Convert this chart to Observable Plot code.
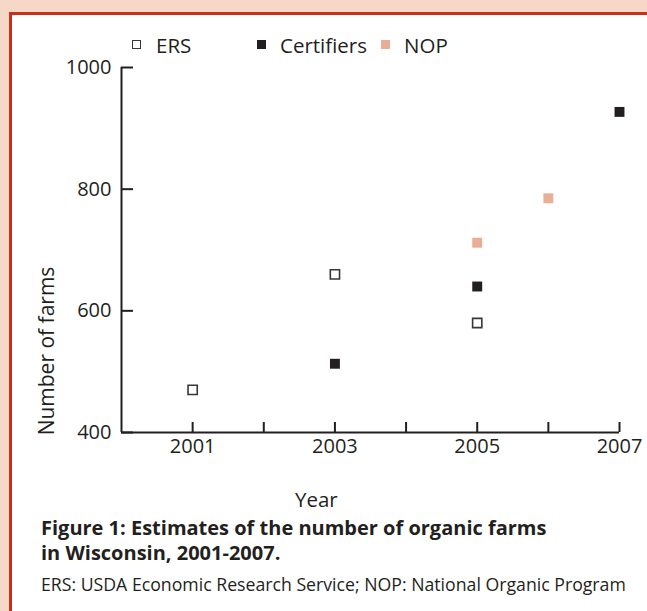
<!DOCTYPE html>
<html>
<head>
<meta charset="utf-8">
<script src="https://cdn.jsdelivr.net/npm/d3@7"></script>
<script src="https://cdn.jsdelivr.net/npm/@observablehq/plot@0.6"></script>
<style>
html, body { margin: 0; padding: 0; }
body { width: 647px; height: 611px; overflow: hidden; background: #f6d8c8; position: relative;
  font-family: "Open Sans", sans-serif; color: #231f20; }
#frame { position: absolute; left: 9px; top: 12px; width: 700px; height: 700px; background: #fff;
  border-left: 3px solid #c9301c; border-top: 3px solid #c9301c; }
#chart { position: absolute; left: 0; top: 0; }
.t { position: absolute; white-space: nowrap; line-height: 1; }
.leg { font-size: 20.5px; top: 35px; }
.sw { position: absolute; width: 9px; height: 9px; box-sizing: border-box; top: 39.5px; }
#ylab { font-size: 21px; left: 46px; top: 351px; transform: translate(-50%, -50%) rotate(-90deg); }
#xlab { font-size: 20.5px; left: 295px; top: 489px; }
.cap { font-size: 20px; font-weight: 700; left: 41px; }
#src { font-size: 17.7px; left: 41px; top: 576px; }
</style>
</head>
<body>
<div id="frame"></div>
<div id="chart"></div>
<div id="legend"></div>
<div class="t" id="ylab"></div>
<div class="t" id="xlab"></div>
<div class="t cap" id="cap1" style="top:518px"></div>
<div class="t cap" id="cap2" style="top:543px"></div>
<div class="t" id="src"></div>
<script>
// ---- data ----
const seriesNames = ["ERS", "Certifiers", "NOP"];
const ersYears = [2001, 2003, 2005];
const ersValues = [470, 660, 580];
const certYears = [2003, 2005, 2007];
const certValues = [513, 640, 927];
const nopYears = [2005, 2006];
const nopValues = [712, 785];
const yTicks = [400, 600, 800, 1000];
const xTickYears = [2001, 2002, 2003, 2004, 2005, 2006, 2007];
const xTickLabels = [2001, 2003, 2005, 2007];
const yTitle = "Number of farms";
const xTitle = "Year";
const captionLines = ["Figure 1: Estimates of the number of organic farms", "in Wisconsin, 2001-2007."];
const sourceNote = "ERS: USDA Economic Research Service; NOP: National Organic Program";

const ink = "#231f20";
const colors = { ERS: "#ffffff", Certifiers: ink, NOP: "#e9ae95" };

const toRows = (xs, ys) => xs.map((x, i) => ({ x, y: ys[i] }));
const ers = toRows(ersYears, ersValues);
const cert = toRows(certYears, certValues);
const nop = toRows(nopYears, nopValues);

const chart = Plot.plot({
  width: 647,
  height: 470,
  marginLeft: 121,
  marginRight: 28,
  marginTop: 67,
  marginBottom: 38,
  style: { background: "transparent", fontFamily: "'Open Sans', sans-serif", color: ink, overflow: "visible" },
  x: { domain: [2000, 2007] },
  y: { domain: [400, 1000] },
  marks: [
    Plot.ruleX([2000], { stroke: ink, strokeWidth: 2 }),
    Plot.ruleY([400], { stroke: ink, strokeWidth: 2 }),
    Plot.axisY(yTicks, { anchor: "left", tickSize: 12, dx: 12, strokeWidth: 2, fill: "none", label: null }),
    Plot.axisY(yTicks, { anchor: "left", tickSize: 0, tickPadding: 10, fontSize: 20, fill: ink,
      tickFormat: d => String(d), label: null }),
    Plot.axisX(xTickYears, { anchor: "bottom", tickSize: 10, dy: -10, strokeWidth: 2, fill: "none", label: null }),
    Plot.axisX(xTickLabels, { anchor: "bottom", tickSize: 0, tickPadding: 6, fontSize: 20, fill: ink,
      tickFormat: d => String(d), label: null }),
    Plot.dot(ers, { x: "x", y: "y", symbol: "square", r: 5.2, fill: colors.ERS, stroke: "#3a3536", strokeWidth: 1.6 }),
    Plot.dot(cert, { x: "x", y: "y", symbol: "square", r: 5.6, fill: colors.Certifiers }),
    Plot.dot(nop, { x: "x", y: "y", symbol: "square", r: 5.6, fill: colors.NOP })
  ]
});
document.getElementById("chart").appendChild(chart);

// legend
const legendPos = [{ sw: 131.5, tx: 156 }, { sw: 256.5, tx: 280 }, { sw: 380.5, tx: 404 }];
const legend = document.getElementById("legend");
seriesNames.forEach((name, i) => {
  const sw = document.createElement("div");
  sw.className = "sw";
  sw.style.left = legendPos[i].sw + "px";
  sw.style.background = colors[name];
  if (name === "ERS") sw.style.border = "1.5px solid #3a3536";
  legend.appendChild(sw);
  const t = document.createElement("div");
  t.className = "t leg";
  t.style.left = legendPos[i].tx + "px";
  t.textContent = name;
  legend.appendChild(t);
});
document.getElementById("ylab").textContent = yTitle;
document.getElementById("xlab").textContent = xTitle;
document.getElementById("cap1").textContent = captionLines[0];
document.getElementById("cap2").textContent = captionLines[1];
document.getElementById("src").textContent = sourceNote;
</script>
</body>
</html>
